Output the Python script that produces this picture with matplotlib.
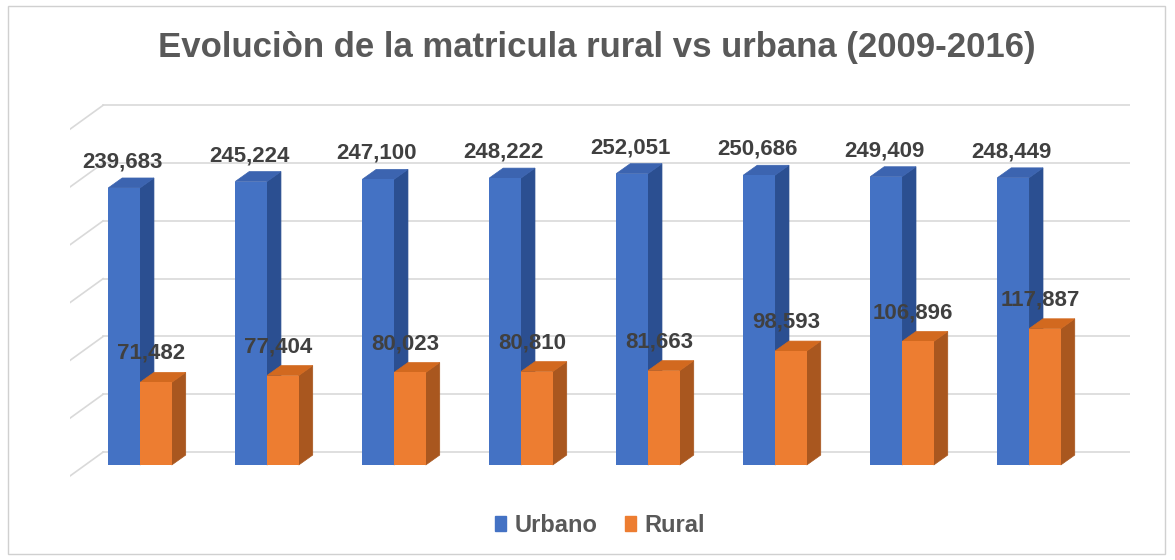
import numpy as np
import matplotlib
matplotlib.use("Agg")
import matplotlib.pyplot as plt
from matplotlib.patches import Polygon, Rectangle

years = ["2009", "2010", "2011", "2012", "2013", "2014", "2015", "2016"]
urbano = [239683, 245224, 247100, 248222, 252051, 250686, 249409, 248449]
rural = [71482, 77404, 80023, 80810, 81663, 98593, 106896, 117887]
title = "Evoluciòn de la matricula rural vs urbana (2009-2016)"

BLUE, BLUE_SIDE, BLUE_TOP = "#4472C4", "#2B4F91", "#3C64B0"
ORANGE, ORANGE_SIDE, ORANGE_TOP = "#ED7D31", "#A9571F", "#D2691F"
GRID = "#D9D9D9"

fig = plt.figure(figsize=(11.75, 5.6), dpi=100)
ax = fig.add_axes([70 / 1175, 80 / 560, 1060 / 1175, 380 / 560])
ax.set_xlim(-0.551, 7.795)
ax.set_ylim(-12976, 315744)
ax.axis("off")

# chart border
fig.patches.append(Rectangle((8 / 1175, 6 / 560), 1157 / 1175, 548 / 560,
                             transform=fig.transFigure, fill=False,
                             edgecolor="#D0D0D0", lw=1))

# back wall gridlines with the little diagonal on the left
back_dy = 11200
for v in range(0, 300001, 50000):
    ax.plot([-0.29, 7.8], [v + back_dy, v + back_dy], color=GRID, lw=1.2, zorder=0)
    ax.plot([-0.551, -0.29], [v - 9500, v + back_dy], color=GRID, lw=1.2, zorder=0)

w = 0.25
ddx, ddy = 0.11, 8600
x = np.arange(len(years))


def bar3d(xc, h, side, top):
    x0, x1 = xc - w / 2, xc + w / 2
    ax.add_patch(Polygon([(x1, 0), (x1 + ddx, ddy), (x1 + ddx, h + ddy), (x1, h)],
                         closed=True, facecolor=side, edgecolor=side, lw=0.5, zorder=2))
    ax.add_patch(Polygon([(x0, h), (x0 + ddx, h + ddy), (x1 + ddx, h + ddy), (x1, h)],
                         closed=True, facecolor=top, edgecolor=top, lw=0.5, zorder=2))


for i in range(len(years)):
    bar3d(x[i] - w / 2, urbano[i], BLUE_SIDE, BLUE_TOP)
ax.bar(x - w / 2, urbano, width=w, color=BLUE, zorder=3)
for i in range(len(years)):
    bar3d(x[i] + w / 2, rural[i], ORANGE_SIDE, ORANGE_TOP)
ax.bar(x + w / 2, rural, width=w, color=ORANGE, zorder=4)

lab_kw = dict(ha="center", va="center", fontsize=16, fontweight="bold",
              color="#404040", family=["Liberation Sans", "DejaVu Sans"], zorder=5)
for i in range(len(years)):
    ax.text(x[i] - w / 2 - 0.01, urbano[i] + 22500, f"{urbano[i]:,}", **lab_kw)
    ax.text(x[i] + w / 2 - 0.04, rural[i] + 25000, f"{rural[i]:,}", **lab_kw)

fig.text(597 / 1175, 1 - 47 / 560, title, ha="center", va="center",
         fontsize=25, fontweight="bold", color="#595959",
         family=["Liberation Sans", "DejaVu Sans"])

handles = [Rectangle((0, 0), 1, 1, color=BLUE), Rectangle((0, 0), 1, 1, color=ORANGE)]
fig.legend(handles, ["Urbano", "Rural"], loc="center",
           bbox_to_anchor=(600 / 1175, 1 - 525 / 560), ncol=2, frameon=False,
           handlelength=0.45, handleheight=0.6, handletextpad=0.35, columnspacing=1.2,
           prop={"family": "Liberation Sans", "size": 17, "weight": "bold"},
           labelcolor="#595959")

fig.savefig("out.png", dpi=100)
